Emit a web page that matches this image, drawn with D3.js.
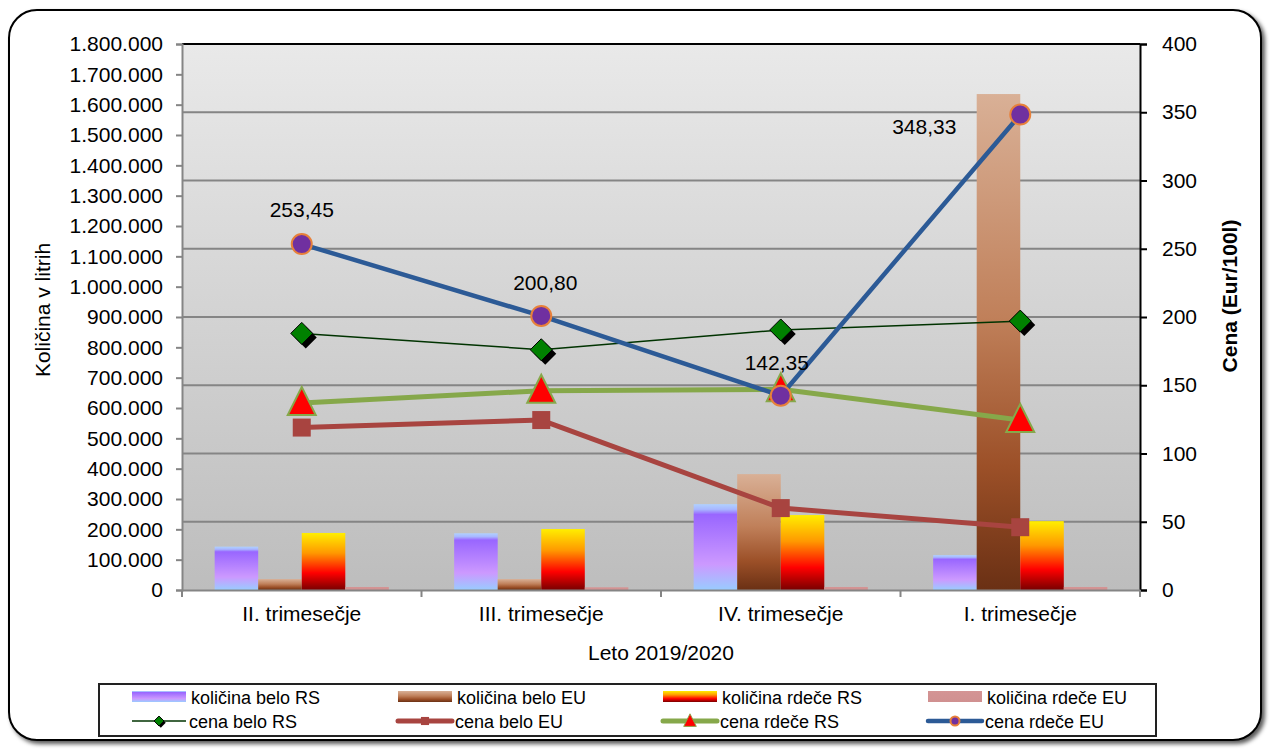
<!DOCTYPE html>
<html>
<head>
<meta charset="utf-8">
<script src="https://cdn.jsdelivr.net/npm/d3@7"></script>
<style>
  html, body { margin: 0; padding: 0; background: #ffffff; }
  svg { display: block; font-family: "Liberation Sans", Arial, sans-serif; }
</style>
</head>
<body>
<svg id="chart" width="1272" height="749"></svg>
<script>
// ---------------- DATA ----------------
const categories = ["II. trimesečje", "III. trimesečje", "IV. trimesečje", "I. trimesečje"];
const barSeriesNames = ["količina belo RS", "količina belo EU", "količina rdeče RS", "količina rdeče EU"];
const kolicinaBeloRS  = [143000, 187000, 283000, 115000];
const kolicinaBeloEU  = [36000, 36000, 382000, 1635000];
const kolicinaRdeceRS = [188000, 201000, 247000, 227000];
const kolicinaRdeceEU = [10000, 9000, 10000, 10000];
const lineSeriesNames = ["cena belo RS", "cena belo EU", "cena rdeče RS", "cena rdeče EU"];
const cenaBeloRS  = [188, 176, 190.5, 197];
const cenaBeloEU  = [119, 124.5, 60, 46];
const cenaRdeceRS = [137, 146, 147, 124.5];
const cenaRdeceEU = [253.45, 200.80, 142.35, 348.33];
const leftTicks  = d3.range(0, 1800001, 100000);
const rightTicks = d3.range(0, 401, 50);
const xTitle = "Leto 2019/2020";
const yLeftTitle = "Količina v litrih";
const yRightTitle = "Cena (Eur/100l)";

// ---------------- LAYOUT ----------------
const svg = d3.select("#chart");
const L = 182, R = 1140, T = 44, B = 590;
const defs = svg.append("defs");

function linGrad(id, stops) {
  const g = defs.append("linearGradient").attr("id", id)
    .attr("x1", 0).attr("y1", 0).attr("x2", 0).attr("y2", 1);
  stops.forEach(s => g.append("stop").attr("offset", s[0]).attr("stop-color", s[1]));
}
linGrad("gPlot", [[0, "#e9e9e9"], [1, "#bdbdbd"]]);
linGrad("gPurple", [[0, "#b0d0ff"], [0.06, "#a8b8ff"], [0.12, "#9966ff"], [0.7, "#cc99ff"], [1, "#99ccff"]]);
linGrad("gBrown", [[0, "#d9b096"], [0.45, "#c0805a"], [0.75, "#9c5028"], [1, "#6a3014"]]);
linGrad("gYellow", [[0, "#ffee00"], [0.35, "#ff9900"], [0.7, "#ff0000"], [1, "#780000"]]);
linGrad("gPink", [[0, "#d49494"], [1, "#d09090"]]);
const barFills = ["url(#gPurple)", "url(#gBrown)", "url(#gYellow)", "url(#gPink)"];

const shadow = defs.append("filter").attr("id", "shadow")
  .attr("x", "-5%").attr("y", "-5%").attr("width", "110%").attr("height", "110%");
shadow.append("feDropShadow").attr("dx", 3).attr("dy", 3).attr("stdDeviation", 2)
  .attr("flood-color", "#000").attr("flood-opacity", 0.65);

// outer frame
svg.append("rect").attr("x", 9).attr("y", 10).attr("width", 1252).attr("height", 730)
  .attr("rx", 28).attr("ry", 28).attr("fill", "#fff").attr("stroke", "#000")
  .attr("stroke-width", 2).attr("filter", "url(#shadow)");

// scales
const x0 = d3.scaleBand().domain(categories).range([L, R]).paddingInner(0).paddingOuter(0);
const x1 = d3.scaleBand().domain(barSeriesNames).range([0, x0.bandwidth()])
  .paddingInner(0).paddingOuter(0.75);
const yL = d3.scaleLinear().domain([0, 1800000]).range([B, T]);
const yR = d3.scaleLinear().domain([0, 400]).range([B, T]);

// plot background
svg.append("rect").attr("x", L).attr("y", T).attr("width", R - L).attr("height", B - T)
  .attr("fill", "url(#gPlot)");

// gridlines (at right axis ticks)
svg.append("g").selectAll("line").data(rightTicks.filter(t => t > 0 && t < 400)).join("line")
  .attr("x1", L).attr("x2", R).attr("y1", d => yR(d)).attr("y2", d => yR(d))
  .attr("stroke", "#858585").attr("stroke-width", 2);

// bars
const barData = [kolicinaBeloRS, kolicinaBeloEU, kolicinaRdeceRS, kolicinaRdeceEU];
const barsG = svg.append("g");
barData.forEach((vals, si) => {
  barsG.append("g").selectAll("rect").data(vals).join("rect")
    .attr("x", (d, i) => x0(categories[i]) + x1(barSeriesNames[si]))
    .attr("width", x1.bandwidth())
    .attr("y", d => yL(d))
    .attr("height", d => B - yL(d))
    .attr("fill", barFills[si]);
});

// axes
// top border
svg.append("line").attr("x1", L).attr("x2", R).attr("y1", T).attr("y2", T)
  .attr("stroke", "#000").attr("stroke-width", 2);

const axL = d3.axisLeft(yL).tickValues(leftTicks).tickSize(6).tickPadding(13)
  .tickFormat(d => d3.format(",")(d).replace(/,/g, "."));
const gL = svg.append("g").attr("transform", `translate(${L},0)`).call(axL);
gL.select(".domain").attr("stroke", "#858585").attr("stroke-width", 2);
gL.selectAll(".tick line").attr("stroke", "#858585").attr("stroke-width", 2);
gL.selectAll(".tick text").attr("font-size", 21).attr("fill", "#000")
  .attr("font-family", "Liberation Sans, Arial, sans-serif");

const axR = d3.axisRight(yR).tickValues(rightTicks).tickSize(7).tickPadding(15);
const gR = svg.append("g").attr("transform", `translate(${R},0)`).call(axR);
gR.select(".domain").attr("stroke", "#000").attr("stroke-width", 2);
gR.selectAll(".tick line").attr("stroke", "#000").attr("stroke-width", 2);
gR.selectAll(".tick text").attr("font-size", 21).attr("fill", "#000")
  .attr("font-family", "Liberation Sans, Arial, sans-serif");

const axB = d3.axisBottom(x0).tickSize(0).tickPadding(16);
const gB = svg.append("g").attr("transform", `translate(0,${B})`).call(axB);
gB.select(".domain").attr("stroke", "#858585").attr("stroke-width", 2);
gB.selectAll(".tick text").attr("font-size", 21).attr("fill", "#000")
  .attr("font-family", "Liberation Sans, Arial, sans-serif");
// category boundary ticks
const bounds = categories.map(c => x0(c)).concat([R]);
svg.append("g").selectAll("line").data(bounds).join("line")
  .attr("x1", d => d).attr("x2", d => d).attr("y1", B).attr("y2", B + 7)
  .attr("stroke", "#858585").attr("stroke-width", 2);

// axis titles
svg.append("text").attr("x", 661).attr("y", 660).attr("text-anchor", "middle")
  .attr("font-size", 21).text(xTitle);
svg.append("text").attr("transform", "translate(50,310) rotate(-90)").attr("text-anchor", "middle")
  .attr("font-size", 21).text(yLeftTitle);
svg.append("text").attr("transform", "translate(1237,296) rotate(-90)").attr("text-anchor", "middle")
  .attr("font-size", 21).attr("font-weight", "bold").text(yRightTitle);

// ---------------- LINES ----------------
const cx = c => x0(c) + x0.bandwidth() / 2;
const lineStyles = [
  { color: "#003300", width: 1.5 },
  { color: "#a84440", width: 5 },
  { color: "#86a84a", width: 5 },
  { color: "#2c5a96", width: 4.5 }
];
const lineData = [cenaBeloRS, cenaBeloEU, cenaRdeceRS, cenaRdeceEU];
const lineGen = d3.line().x((d, i) => cx(categories[i])).y(d => yR(d));

function drawMarker(g, type, scale) {
  const s = scale;
  if (type === 0) {
    g.append("path").attr("d", `M0,${-11*s} L${11*s},0 L0,${11*s} L${-11*s},0 Z`)
      .attr("transform", `translate(${4*s},${4*s})`).attr("fill", "#000");
    g.append("path").attr("d", `M0,${-11*s} L${11*s},0 L0,${11*s} L${-11*s},0 Z`)
      .attr("fill", "#008000").attr("stroke", "#000").attr("stroke-width", 1);
  } else if (type === 1) {
    g.append("rect").attr("x", -9*s).attr("y", -9*s).attr("width", 18*s).attr("height", 18*s)
      .attr("fill", "#a84440");
  } else if (type === 2) {
    g.append("path").attr("d", `M0,${-16*s} L${14*s},${12*s} L${-14*s},${12*s} Z`)
      .attr("fill", "#ff0000").attr("stroke", "#86a84a").attr("stroke-width", 2*s);
  } else {
    g.append("circle").attr("r", 10*s).attr("fill", "#7030a0")
      .attr("stroke", "#e8803a").attr("stroke-width", 2);
  }
}

lineData.forEach((vals, si) => {
  const g = svg.append("g");
  g.append("path").attr("d", lineGen(vals)).attr("fill", "none")
    .attr("stroke", lineStyles[si].color).attr("stroke-width", lineStyles[si].width)
    .attr("stroke-linejoin", "round");
  vals.forEach((v, i) => {
    const mg = g.append("g").attr("transform", `translate(${cx(categories[i])},${yR(v)})`);
    drawMarker(mg, si, 1);
  });
});

// data labels for cena rdeče EU
const fmt = v => v.toFixed(2).replace(".", ",");
const labelOffsets = [[0, -27], [4, -26], [-4, -26], [-96, 19]];
svg.append("g").selectAll("text").data(cenaRdeceEU).join("text")
  .attr("x", (d, i) => cx(categories[i]) + labelOffsets[i][0])
  .attr("y", (d, i) => yR(d) + labelOffsets[i][1])
  .attr("text-anchor", "middle").attr("font-size", 21).attr("fill", "#000")
  .text(d => fmt(d));

// ---------------- LEGEND ----------------
svg.append("rect").attr("x", 99).attr("y", 684).attr("width", 1057).attr("height", 52)
  .attr("fill", "#fff").attr("stroke", "#222").attr("stroke-width", 2);
const colX = [132, 398, 663, 928];
const row1 = 697, row2 = 721;
barSeriesNames.forEach((n, i) => {
  svg.append("rect").attr("x", colX[i]).attr("y", row1 - 6).attr("width", 54).attr("height", 11)
    .attr("fill", barFills[i]);
  svg.append("text").attr("x", colX[i] + 59).attr("y", row1 + 7).attr("font-size", 18).text(n);
});
lineSeriesNames.forEach((n, i) => {
  svg.append("line").attr("x1", colX[i]).attr("x2", colX[i] + 54).attr("y1", row2).attr("y2", row2)
    .attr("stroke", lineStyles[i].color).attr("stroke-width", lineStyles[i].width)
    .attr("stroke-linecap", i === 0 ? "butt" : "round");
  const mg = svg.append("g").attr("transform", `translate(${colX[i] + 27},${row2})`);
  drawMarker(mg, i, 0.45);
  svg.append("text").attr("x", colX[i] + 57).attr("y", row2 + 7).attr("font-size", 18).text(n);
});
</script>
</body>
</html>
